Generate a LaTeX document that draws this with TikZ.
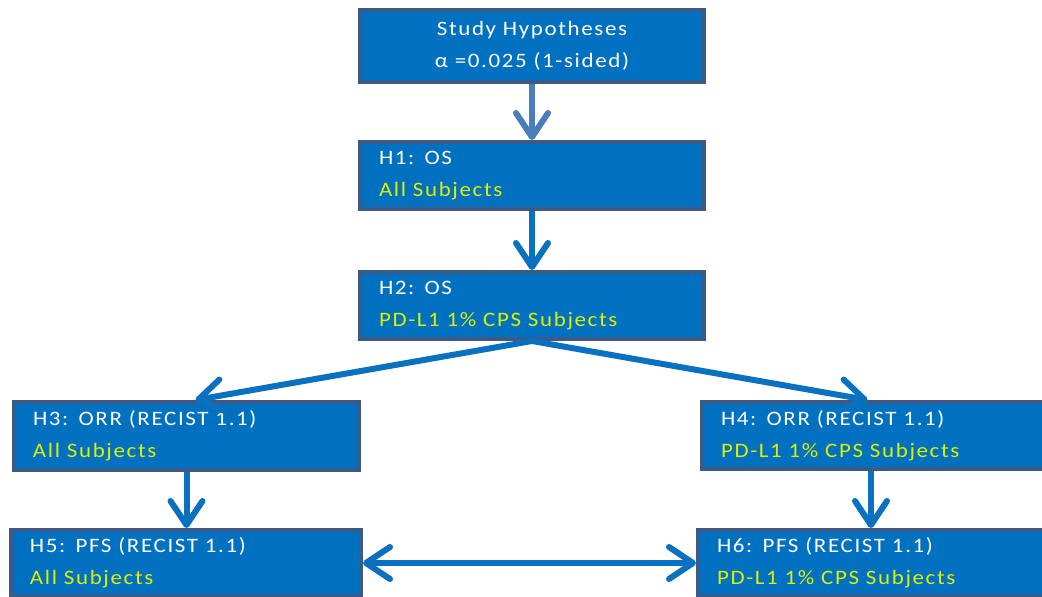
\documentclass[tikz,border=0pt]{standalone}
\usepackage{fontspec}
\setmainfont{Carlito}[LetterSpace=8,FakeStretch=1.12]
\usetikzlibrary{arrows.meta,calc}
\definecolor{fillc}{RGB}{0,112,192}
\definecolor{bordc}{RGB}{60,90,135}
\definecolor{arrc}{RGB}{10,112,192}
\definecolor{arrtop}{RGB}{74,126,187}
\definecolor{subc}{RGB}{220,240,0}
\tikzset{
  basebox/.style={draw=bordc, line width=4pt, fill=fillc, text=white, inner ysep=0pt,
    font=\fontsize{20.5}{32}\selectfont},
  topbox/.style={basebox, align=center, minimum width=344pt, minimum height=72pt},
  hbox/.style={basebox, align=left, inner xsep=19pt},
  barb/.tip={Straight Barb[length=24pt, width=32pt, line cap=round, line join=round]},
  arr/.style={draw=arrc, line width=6pt, -barb},
}
\newcommand\subjtxt[1]{\textcolor{subc}{#1}}
\begin{document}
\begin{tikzpicture}[x=1pt,y=-1pt]
\useasboundingbox (0,0) rectangle (1042,597);
\clip (0,0) rectangle (1042,597);
\node[topbox] (top) at (532,46) {Study Hypotheses\\α =0.025 (1-sided)};
\node[hbox, minimum width=344pt, minimum height=67pt, text width=306pt] (h1) at (532,175.5) {H1: OS\\\subjtxt{All Subjects}};
\node[hbox, minimum width=344pt, minimum height=67pt, text width=306pt] (h2) at (532,305.5) {H2: OS\\\subjtxt{PD-L1 1\% CPS Subjects}};
\node[hbox, minimum width=345pt, minimum height=68pt, text width=307pt] (h3) at (186.5,436) {H3: ORR (RECIST 1.1)\\\subjtxt{All Subjects}};
\node[hbox, minimum width=345pt, minimum height=67pt, text width=307pt] (h4) at (874.5,435.5) {H4: ORR (RECIST 1.1)\\\subjtxt{PD-L1 1\% CPS Subjects}};
\node[hbox, minimum width=350pt, minimum height=66pt, text width=312pt] (h5) at (186,563) {H5: PFS (RECIST 1.1)\\\subjtxt{All Subjects}};
\node[hbox, minimum width=346pt, minimum height=66pt, text width=308pt] (h6) at (871,563) {H6: PFS (RECIST 1.1)\\\subjtxt{PD-L1 1\% CPS Subjects}};
\draw[arr, draw=arrtop] (top.south) -- (h1.north);
\draw[arr] (h1.south) -- (h2.north);
\draw[arr] (h2.south) -- ($(h3.north)+(9,0)$);
\draw[arr] (h2.south) -- ($(h4.north)+(-7,0)$);
\draw[arr] (h3.south) -- (h3.south |- h5.north);
\draw[arr] (h6.north |- h4.south) -- (h6.north);
\draw[arr, barb-barb] (h5.east) -- (h6.west);
\end{tikzpicture}
\end{document}
